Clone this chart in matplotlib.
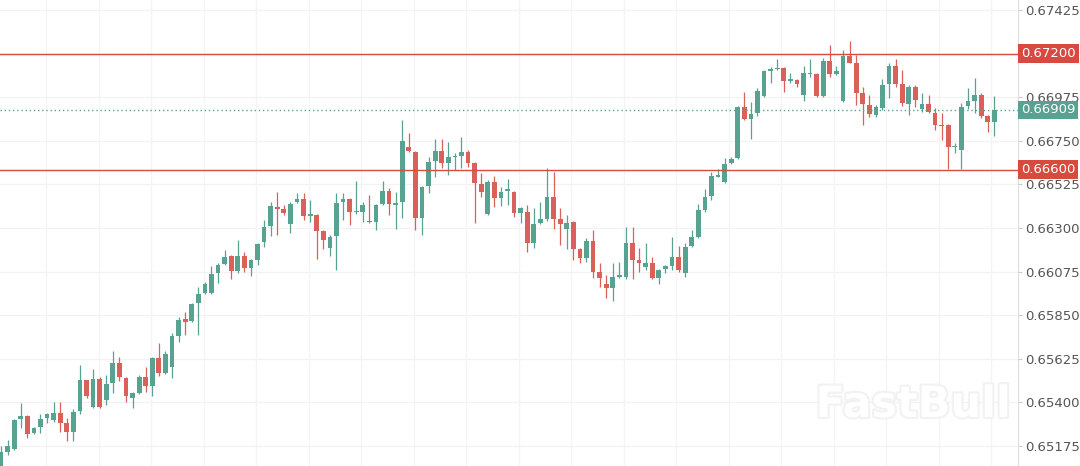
import numpy as np
import matplotlib
matplotlib.use('Agg')
import matplotlib.pyplot as plt
import matplotlib.patheffects as pe

# OHLC values (one entry per candle, left to right)
opens = [0.65051, 0.65144, 0.65160, 0.65314, 0.65330, 0.65242, 0.65273, 0.65320, 0.65309, 0.65345,
         0.65294, 0.65247, 0.65356, 0.65515, 0.65376, 0.65521, 0.65412, 0.65500, 0.65603, 0.65526,
         0.65422, 0.65448, 0.65531, 0.65484, 0.65629, 0.65551, 0.65582, 0.65742, 0.65830, 0.65820,
         0.65912, 0.65964, 0.65964, 0.66067, 0.66114, 0.66155, 0.66078, 0.66155, 0.66093, 0.66135,
         0.66228, 0.66310, 0.66408, 0.66398, 0.66321, 0.66434, 0.66450, 0.66362, 0.66367, 0.66284,
         0.66197, 0.66259, 0.66434, 0.66450, 0.66382, 0.66382, 0.66336, 0.66331, 0.66424, 0.66491,
         0.66418, 0.66434, 0.66718, 0.66692, 0.66352, 0.66517, 0.66646, 0.66697, 0.66635, 0.66666,
         0.66671, 0.66692, 0.66635, 0.66527, 0.66372, 0.66537, 0.66455, 0.66491, 0.66486, 0.66377,
         0.66382, 0.66223, 0.66326, 0.66346, 0.66460, 0.66346, 0.66295, 0.66331, 0.66192, 0.66145,
         0.66233, 0.66073, 0.66011, 0.65990, 0.66047, 0.66047, 0.66223, 0.66135, 0.66098, 0.66119,
         0.66042, 0.66088, 0.66104, 0.66150, 0.66067, 0.66207, 0.66253, 0.66393, 0.66465, 0.66563,
         0.66537, 0.66635, 0.66661, 0.66924, 0.66862, 0.66893, 0.66981, 0.67110, 0.67120, 0.67126,
         0.67058, 0.67064, 0.66986, 0.67095, 0.67095, 0.66981, 0.67162, 0.67095, 0.66955, 0.67187,
         0.67151, 0.66997, 0.66935, 0.66883, 0.66919, 0.67043, 0.67136, 0.67043, 0.66940, 0.67028,
         0.66914, 0.66940, 0.66893, 0.66832, 0.66832, 0.66718, 0.66702, 0.66930, 0.66955, 0.66986,
         0.66878, 0.66847]
highs = [0.65175, 0.65206, 0.65314, 0.65397, 0.65335, 0.65273, 0.65340, 0.65345, 0.65402, 0.65402,
         0.65320, 0.65366, 0.65593, 0.65518, 0.65572, 0.65531, 0.65541, 0.65665, 0.65634, 0.65531,
         0.65453, 0.65541, 0.65582, 0.65634, 0.65706, 0.65665, 0.65758, 0.65840, 0.65866, 0.65912,
         0.65995, 0.66021, 0.66104, 0.66119, 0.66186, 0.66160, 0.66238, 0.66176, 0.66140, 0.66222,
         0.66341, 0.66434, 0.66486, 0.66418, 0.66434, 0.66481, 0.66481, 0.66444, 0.66372, 0.66290,
         0.66264, 0.66481, 0.66481, 0.66455, 0.66542, 0.66434, 0.66470, 0.66423, 0.66542, 0.66506,
         0.66486, 0.66857, 0.66790, 0.66697, 0.66517, 0.66666, 0.66759, 0.66759, 0.66744, 0.66687,
         0.66769, 0.66702, 0.66640, 0.66584, 0.66548, 0.66568, 0.66511, 0.66553, 0.66491, 0.66408,
         0.66418, 0.66403, 0.66434, 0.66610, 0.66589, 0.66403, 0.66367, 0.66336, 0.66197, 0.66248,
         0.66290, 0.66119, 0.66057, 0.66119, 0.66124, 0.66305, 0.66305, 0.66197, 0.66223, 0.66150,
         0.66088, 0.66109, 0.66253, 0.66207, 0.66223, 0.66290, 0.66424, 0.66501, 0.66589, 0.66605,
         0.66661, 0.66666, 0.66930, 0.67002, 0.66950, 0.67022, 0.67115, 0.67131, 0.67172, 0.67131,
         0.67100, 0.67069, 0.67136, 0.67172, 0.67100, 0.67177, 0.67244, 0.67136, 0.67219, 0.67265,
         0.67193, 0.67028, 0.66986, 0.66935, 0.67069, 0.67151, 0.67172, 0.67115, 0.67038, 0.67038,
         0.66997, 0.66986, 0.66919, 0.66893, 0.66837, 0.66738, 0.66945, 0.67022, 0.67074, 0.66997,
         0.66883, 0.66981]
lows = [0.65041, 0.65128, 0.65154, 0.65268, 0.65216, 0.65236, 0.65242, 0.65294, 0.65299, 0.65247,
        0.65201, 0.65201, 0.65340, 0.65422, 0.65371, 0.65371, 0.65387, 0.65448, 0.65510, 0.65402,
        0.65371, 0.65443, 0.65453, 0.65433, 0.65536, 0.65546, 0.65526, 0.65711, 0.65748, 0.65815,
        0.65748, 0.65959, 0.65959, 0.66016, 0.66109, 0.66036, 0.66067, 0.66073, 0.66052, 0.66109,
        0.66202, 0.66259, 0.66264, 0.66367, 0.66274, 0.66429, 0.66341, 0.66331, 0.66140, 0.66192,
        0.66155, 0.66083, 0.66341, 0.66315, 0.66372, 0.66331, 0.66326, 0.66290, 0.66418, 0.66367,
        0.66295, 0.66352, 0.66692, 0.66290, 0.66264, 0.66481, 0.66563, 0.66610, 0.66574, 0.66599,
        0.66610, 0.66615, 0.66326, 0.66460, 0.66367, 0.66408, 0.66413, 0.66418, 0.66357, 0.66326,
        0.66176, 0.66197, 0.66321, 0.66336, 0.66295, 0.66212, 0.66192, 0.66135, 0.66119, 0.66124,
        0.66042, 0.65995, 0.65938, 0.65923, 0.66042, 0.66036, 0.66036, 0.66073, 0.66083, 0.66036,
        0.66011, 0.66067, 0.66083, 0.66073, 0.66047, 0.66202, 0.66248, 0.66382, 0.66444, 0.66563,
        0.66532, 0.66630, 0.66656, 0.66857, 0.66759, 0.66878, 0.66976, 0.67048, 0.67115, 0.67002,
        0.67048, 0.67028, 0.66955, 0.67079, 0.66976, 0.66976, 0.67079, 0.67090, 0.66950, 0.67151,
        0.66935, 0.66832, 0.66873, 0.66873, 0.66909, 0.66971, 0.67028, 0.66930, 0.66883, 0.66924,
        0.66899, 0.66893, 0.66806, 0.66754, 0.66604, 0.66687, 0.66604, 0.66914, 0.66893, 0.66868,
        0.66795, 0.66775]
closes = [0.65144, 0.65175, 0.65309, 0.65330, 0.65236, 0.65268, 0.65314, 0.65340, 0.65345, 0.65294,
          0.65247, 0.65351, 0.65515, 0.65433, 0.65521, 0.65376, 0.65495, 0.65603, 0.65531, 0.65433,
          0.65448, 0.65531, 0.65484, 0.65629, 0.65551, 0.65650, 0.65742, 0.65825, 0.65815, 0.65907,
          0.65959, 0.66011, 0.66062, 0.66109, 0.66150, 0.66078, 0.66155, 0.66093, 0.66135, 0.66217,
          0.66305, 0.66413, 0.66398, 0.66377, 0.66424, 0.66450, 0.66362, 0.66372, 0.66284, 0.66238,
          0.66253, 0.66429, 0.66450, 0.66382, 0.66388, 0.66418, 0.66331, 0.66418, 0.66491, 0.66424,
          0.66429, 0.66749, 0.66697, 0.66352, 0.66511, 0.66640, 0.66697, 0.66635, 0.66666, 0.66671,
          0.66692, 0.66635, 0.66532, 0.66486, 0.66537, 0.66455, 0.66486, 0.66501, 0.66377, 0.66403,
          0.66223, 0.66321, 0.66346, 0.66460, 0.66346, 0.66321, 0.66326, 0.66192, 0.66145, 0.66233,
          0.66073, 0.66042, 0.65990, 0.66047, 0.66057, 0.66223, 0.66135, 0.66119, 0.66119, 0.66042,
          0.66083, 0.66104, 0.66150, 0.66083, 0.66202, 0.66253, 0.66393, 0.66460, 0.66568, 0.66574,
          0.66630, 0.66656, 0.66924, 0.66862, 0.66888, 0.67007, 0.67110, 0.67120, 0.67126, 0.67058,
          0.67069, 0.67043, 0.67100, 0.67100, 0.66981, 0.67162, 0.67095, 0.67110, 0.67187, 0.67151,
          0.66997, 0.66940, 0.66888, 0.66924, 0.67038, 0.67136, 0.67043, 0.66945, 0.67028, 0.66961,
          0.66940, 0.66899, 0.66832, 0.66827, 0.66718, 0.66723, 0.66924, 0.66955, 0.66986, 0.66878,
          0.66847, 0.66909]

yticks = [0.65175, 0.65400, 0.65625, 0.65850, 0.66075, 0.66300, 0.66525,
          0.66750, 0.66975, 0.67200, 0.67425]
resistance = 0.67200
support = 0.66600
last_price = 0.66909

up_col = '#58a292'
down_col = '#d9615a'
line_red = '#d84a40'

o = np.array(opens)
h = np.array(highs)
l = np.array(lows)
c = np.array(closes)
x = np.arange(len(o))
cols = np.where(c >= o, up_col, down_col)

fig = plt.figure(figsize=(10.8, 4.66), dpi=100)
ax = fig.add_axes([0, 0, 1018/1080, 1])

# grid
for t in yticks:
    ax.axhline(t, color='#f2f2f2', lw=0.9, zorder=0)
for gx in np.arange(6.9, 155, 7.98):
    ax.axvline(gx, color='#f4f4f4', lw=0.9, zorder=0)

# candles
ax.vlines(x, l, h, colors=cols, lw=0.9, zorder=2)
body = np.maximum(np.abs(c - o), 0.00003)
ax.bar(x, body, bottom=np.minimum(o, c), width=0.72, color=cols, zorder=3)

# levels
ax.axhline(resistance, color=line_red, lw=1.0, zorder=4)
ax.axhline(support, color=line_red, lw=1.0, zorder=4)
ax.axhline(last_price, color=up_col, lw=1.0, ls=(0, (1, 2)), zorder=4)

ax.set_xlim(-0.15, 154.6)
ax.set_ylim(0.650716, 0.674766)

# the 0.67200 tick label sits under its price tag, so leave it blank
ax.yaxis.tick_right()
ax.set_yticks(yticks)
ax.set_yticklabels(['' if t == resistance else '%.5f' % t for t in yticks])
ax.tick_params(axis='y', length=3, color='#cccccc', labelsize=9.5,
               labelcolor='#555555', pad=2)
ax.set_xticks([])
for s in ['top', 'left', 'bottom']:
    ax.spines[s].set_visible(False)
ax.spines['right'].set_color('#dddddd')

# price tags on the right axis
tr = ax.get_yaxis_transform()
for val, fc in [(resistance, line_red), (support, line_red), (last_price, up_col)]:
    ax.text(1.003, val, '%.5f' % val, transform=tr, ha='left', va='center',
            fontsize=9.5, color='white', zorder=10, clip_on=False,
            bbox=dict(boxstyle='square,pad=0.22', fc=fc, ec='none'))

# watermark
ax.text(0.897, 0.131, 'FastBull', transform=ax.transAxes, ha='center', va='center',
        fontsize=31, fontweight='bold', color='white', zorder=1,
        path_effects=[pe.withStroke(linewidth=3, foreground='#f2f2f2')])

fig.savefig('out.png', dpi=100)
